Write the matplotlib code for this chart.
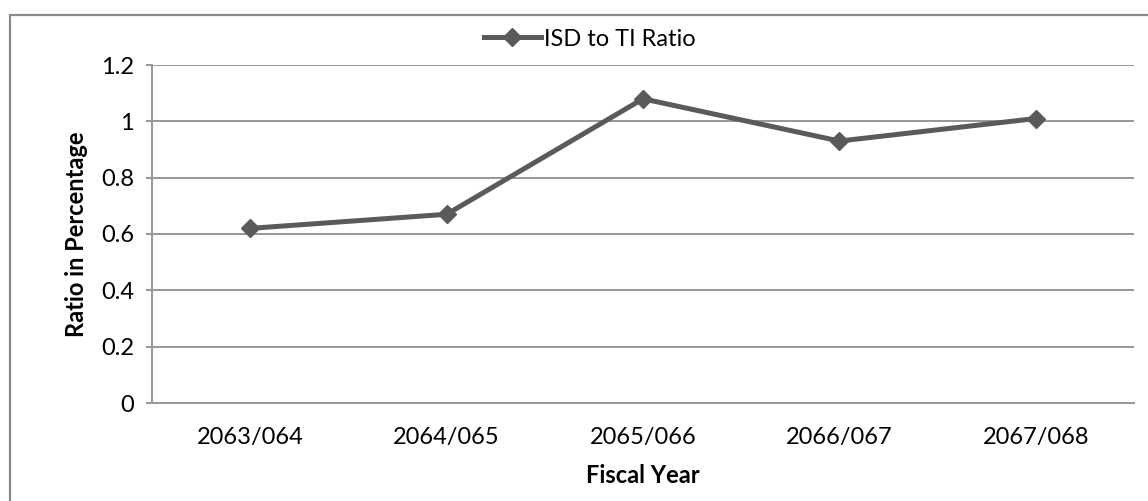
import matplotlib.pyplot as plt
from matplotlib.patches import Rectangle

# ---- data ----
years = ['2063/064', '2064/065', '2065/066', '2066/067', '2067/068']
ratio = [0.62, 0.67, 1.08, 0.93, 1.01]
yticks = [0, 0.2, 0.4, 0.6, 0.8, 1.0, 1.2]
ytick_labels = ['0', '0.2', '0.4', '0.6', '0.8', '1', '1.2']

plt.rcParams['font.family'] = ['Lato', 'DejaVu Sans']

fig = plt.figure(figsize=(11.48, 5.01), dpi=100)
ax = fig.add_axes([152 / 1148, 1 - 403 / 501, 982 / 1148, 338 / 501])

grey = '#5a5a5a'
ax.plot(range(len(years)), ratio, color=grey, lw=3.6, marker='D', ms=9,
        markerfacecolor=grey, markeredgecolor=grey, label='ISD to TI Ratio',
        zorder=3)

ax.set_xlim(-0.5, len(years) - 0.5)
ax.set_ylim(0, 1.2)
ax.set_yticks(yticks)
ax.set_yticklabels(ytick_labels)
ax.set_xticks(range(len(years)))
ax.set_xticklabels(years)

ax.grid(axis='y', color='#979797', lw=1.4)
ax.set_axisbelow(True)
for s in ['top', 'right']:
    ax.spines[s].set_visible(False)
for s in ['left', 'bottom']:
    ax.spines[s].set_color('#979797')
    ax.spines[s].set_linewidth(1.4)
ax.tick_params(axis='y', length=4, color='#979797', width=1.4, labelsize=17, pad=9)
ax.tick_params(axis='x', length=0, labelsize=17, pad=17)

ax.set_xlabel('Fiscal Year', fontsize=17, fontweight='bold', labelpad=12)
ax.set_ylabel('Ratio in Percentage', fontsize=17, fontweight='bold', labelpad=9)

fig.legend(loc='center', bbox_to_anchor=(590 / 1148, 1 - 39 / 501), frameon=False,
           fontsize=17, handlelength=2.4, handletextpad=0.15)

# outer chart border
fig.patches.append(Rectangle((10 / 1148, -0.1), 1.2, 1 - 15 / 501 + 0.1,
                             transform=fig.transFigure, fill=False,
                             edgecolor='#8a8a8a', lw=1.6))

fig.savefig('out.png', dpi=100)
